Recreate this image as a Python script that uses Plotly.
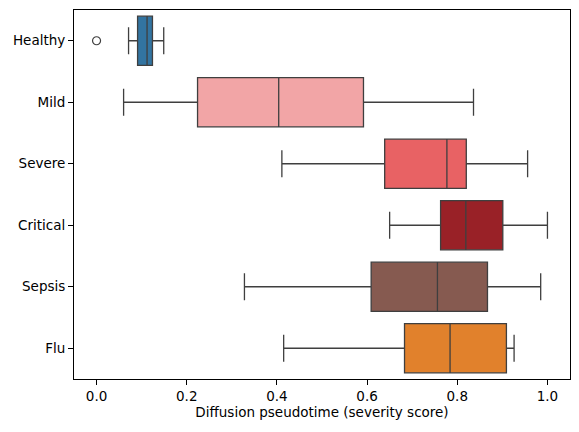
import plotly.graph_objects as go

# groups and box statistics (diffusion pseudotime)
groups = ["Healthy", "Mild", "Severe", "Critical", "Sepsis", "Flu"]
lower = [0.071, 0.060, 0.411, 0.650, 0.328, 0.415]
q1 = [0.091, 0.224, 0.639, 0.763, 0.609, 0.683]
median = [0.112, 0.404, 0.777, 0.819, 0.756, 0.784]
q3 = [0.124, 0.592, 0.820, 0.901, 0.867, 0.909]
upper = [0.149, 0.836, 0.956, 1.000, 0.985, 0.926]
colors = ["#3274a1", "#f2a5a6", "#e86264", "#992127", "#865a50", "#e1812c"]

outlier_group = ["Healthy"]
outlier_value = [0.0]

edge = "#3f3f3f"

fig = go.Figure()

for i, g in enumerate(groups):
    fig.add_trace(
        go.Box(
            y=[g],
            q1=[q1[i]],
            median=[median[i]],
            q3=[q3[i]],
            lowerfence=[lower[i]],
            upperfence=[upper[i]],
            orientation="h",
            width=0.8,
            whiskerwidth=0.55,
            fillcolor=colors[i],
            line=dict(color=edge, width=1.3),
            hoverinfo="x",
            showlegend=False,
        )
    )

fig.add_trace(
    go.Scatter(
        x=outlier_value,
        y=outlier_group,
        mode="markers",
        marker=dict(size=8, color="white", line=dict(color=edge, width=1.2)),
        showlegend=False,
    )
)

axis_font = dict(family="DejaVu Sans", size=13.5, color="black")

# the page body adds an 8px margin, so the figure is shrunk by that much
fig.update_layout(
    width=571,
    height=424,
    margin=dict(l=66, r=9, t=2, b=53, autoexpand=False),
    plot_bgcolor="white",
    paper_bgcolor="white",
    font=axis_font,
    xaxis=dict(
        range=[-0.05, 1.05],
        autorange=False,
        automargin=False,
        tickvals=[0, 0.2, 0.4, 0.6, 0.8, 1.0],
        ticktext=["0.0", "0.2", "0.4", "0.6", "0.8", "1.0"],
        ticks="outside",
        ticklen=5,
        tickcolor="black",
        showline=True,
        linecolor="black",
        linewidth=1,
        mirror=True,
        showgrid=False,
        zeroline=False,
        title=dict(text="Diffusion pseudotime (severity score)", font=axis_font, standoff=4),
    ),
    yaxis=dict(
        categoryorder="array",
        categoryarray=groups,
        range=[5.5, -0.5],
        autorange=False,
        automargin=False,
        ticks="outside",
        ticklen=5,
        tickcolor="black",
        showline=True,
        linecolor="black",
        linewidth=1,
        mirror=True,
        showgrid=False,
        zeroline=False,
    ),
)

fig.write_html("out.html")
